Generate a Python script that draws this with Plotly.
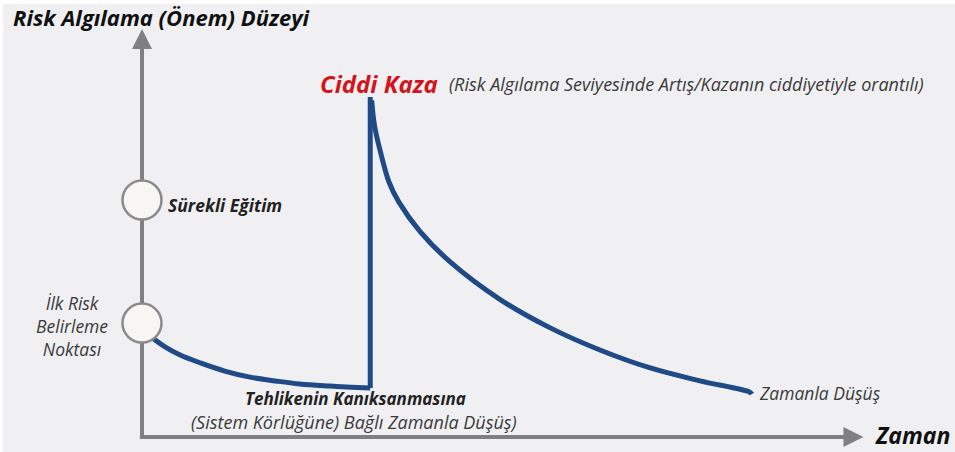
import plotly.graph_objects as go

# ---- data (time units, risk-perception units) ----
habituation_time = [1.1, 3.2, 5.3, 8.1, 11.5, 15.0, 18.5, 21.9, 26.1, 31.7]
habituation_risk = [29.7, 26.5, 24.1, 21.8, 19.4, 17.6, 16.5, 15.6, 15.0, 14.4]

jump_time = [31.7, 31.7]
jump_risk = [14.4, 100.0]

decay_time = [31.9, 32.3, 33.1, 34.3, 35.7, 38.6, 42.8, 49.7, 56.7, 63.6, 70.6, 77.5, 84.4, 84.7]
decay_risk = [99.0, 91.5, 84.0, 75.0, 69.0, 60.5, 51.5, 40.5, 32.1, 25.6, 20.3, 16.5, 13.2, 12.6]

milestone_time = [0.0, 0.0]
milestone_risk = [33.5, 69.7]

axis_time_max = 99.0
axis_risk_max = 118.0

# axis ranges: px = 142 + 7.2*t ; py = 437 - 3.4*r
X0, SX = 142.0, 7.2
Y0, SY = 437.0, 3.4
W, H = 955, 452

def px(x):
    return x / W

def py(y):
    return 1 - y / H

LINE = "#1f4a86"
GRAY = "#808080"
TXT = "#3a3a3a"
FONT = "Open Sans"

fig = go.Figure()

# axis lines (as traces so the circles can sit on top)
fig.add_trace(go.Scatter(x=[0, 0], y=[-0.6, axis_risk_max], mode="lines",
                         line=dict(color=GRAY, width=4), hoverinfo="skip"))
fig.add_trace(go.Scatter(x=[-0.3, axis_time_max], y=[0, 0], mode="lines",
                         line=dict(color=GRAY, width=4), hoverinfo="skip"))

fig.add_trace(go.Scatter(x=habituation_time, y=habituation_risk, mode="lines",
                         line=dict(color=LINE, width=5, shape="spline"), hoverinfo="skip"))
fig.add_trace(go.Scatter(x=jump_time, y=jump_risk, mode="lines",
                         line=dict(color=LINE, width=5), hoverinfo="skip"))
fig.add_trace(go.Scatter(x=decay_time, y=decay_risk, mode="lines",
                         line=dict(color=LINE, width=5, shape="spline"), hoverinfo="skip"))

fig.add_trace(go.Scatter(x=milestone_time, y=milestone_risk, mode="markers",
                         marker=dict(size=39, color="#f7f6f3", line=dict(color="#8a8a8a", width=2.5)),
                         hoverinfo="skip"))

# arrow heads
fig.add_annotation(x=0, y=axis_risk_max + 2, ax=0, ay=axis_risk_max - 3, xref="x", yref="y", axref="x", ayref="y",
                   showarrow=True, arrowhead=2, arrowsize=1, arrowwidth=4, arrowcolor=GRAY, text="")
fig.add_annotation(x=axis_time_max + 1.2, y=0, ax=axis_time_max - 2, ay=0, xref="x", yref="y", axref="x", ayref="y",
                   showarrow=True, arrowhead=2, arrowsize=1, arrowwidth=4, arrowcolor=GRAY, text="")

texts = [
    dict(x=px(11), y=py(17), text="<b><i>Risk Algılama (Önem) Düzeyi</i></b>", size=22, color="#111111", xanchor="left"),
    dict(x=px(318), y=py(83), text="<b><i>Ciddi Kaza</i></b>", size=24, color="#d2141c", xanchor="left"),
    dict(x=px(447), y=py(84), text="<i>(Risk Algılama Seviyesinde Artış/Kazanın ciddiyetiyle orantılı)</i>", size=18, color=TXT, xanchor="left"),
    dict(x=px(166), y=py(205), text="<b><i>Sürekli Eğitim</i></b>", size=17.5, color="#222222", xanchor="left"),
    dict(x=px(72), y=py(326), text="<i>İlk Risk<br>Belirleme<br>Noktası</i>", size=17.5, color=TXT, xanchor="center"),
    dict(x=px(355), y=py(398), text="<b><i>Tehlikenin Kanıksanmasına</i></b>", size=17, color="#222222", xanchor="center"),
    dict(x=px(354), y=py(422), text="<i>(Sistem Körlüğüne) Bağlı Zamanla Düşüş)</i>", size=18, color=TXT, xanchor="center"),
    dict(x=px(757), y=py(393), text="<i>Zamanla Düşüş</i>", size=17.5, color=TXT, xanchor="left"),
    dict(x=px(952), y=py(435), text="<b><i>Zaman</i></b>", size=23, color="#111111", xanchor="right"),
]
for t in texts:
    fig.add_annotation(x=t["x"], y=t["y"], xref="paper", yref="paper", text=t["text"],
                       showarrow=False, xanchor=t["xanchor"], yanchor="middle", align="center",
                       font=dict(family=FONT, size=t["size"], color=t["color"]))

# white frame edges on the left and top like the reference
fig.add_shape(type="rect", xref="paper", yref="paper", x0=0, x1=3 / W, y0=0, y1=1,
              fillcolor="white", line=dict(width=0), layer="below")
fig.add_shape(type="rect", xref="paper", yref="paper", x0=0, x1=1, y0=1 - 4 / H, y1=1,
              fillcolor="white", line=dict(width=0), layer="below")

fig.update_layout(
    width=W, height=H,
    margin=dict(l=0, r=0, t=0, b=0),
    paper_bgcolor="#f0f0f2", plot_bgcolor="rgba(0,0,0,0)",
    showlegend=False,
    xaxis=dict(range=[-X0 / SX, (W - X0) / SX], visible=False, fixedrange=True),
    yaxis=dict(range=[(Y0 - H) / SY, Y0 / SY], visible=False, fixedrange=True),
)

fig.write_html("out.html", config={"displayModeBar": False},
               post_script="document.body.style.margin='0';document.body.style.overflow='hidden';")
